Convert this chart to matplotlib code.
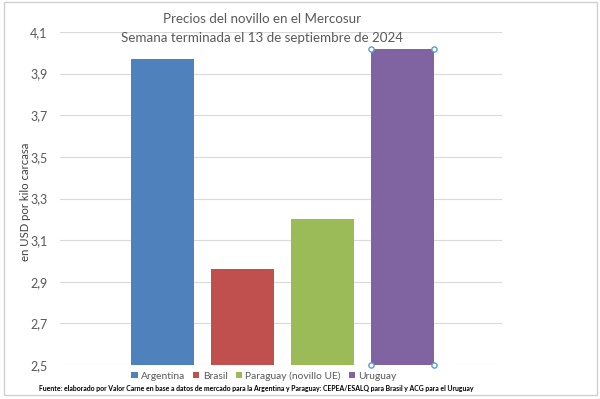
import matplotlib
matplotlib.use("Agg")
import matplotlib.pyplot as plt
from matplotlib.patches import Rectangle, Patch

categories = ["Argentina", "Brasil", "Paraguay (novillo UE)", "Uruguay"]
values = [3.97, 2.96, 3.20, 4.02]
colors = ["#4F81BD", "#C0504D", "#9BBB59", "#8064A2"]
yticks = [2.5, 2.7, 2.9, 3.1, 3.3, 3.5, 3.7, 3.9, 4.1]
ytick_labels = ["2,5", "2,7", "2,9", "3,1", "3,3", "3,5", "3,7", "3,9", "4,1"]

plt.rcParams['font.family'] = ['Lato', 'DejaVu Sans']

fig = plt.figure(figsize=(6, 3.99), dpi=100)
ax = fig.add_axes([60/600, 1-365/399, (502-60)/600, (365-32)/399])

x = list(range(len(categories)))
bars = ax.bar(x, values, width=0.79, color=colors, zorder=3)
ax.set_ylim(2.5, 4.1)
ax.set_xlim(-1.28, 4.25)
ax.set_yticks(yticks)
ax.set_yticklabels(ytick_labels)
ax.set_xticks([])
ax.tick_params(axis='y', length=0, labelsize=9, labelcolor='#595959', pad=9)
ax.grid(axis='y', color='#D9D9D9', linewidth=0.8, zorder=0)
for s in ax.spines.values():
    s.set_visible(False)
ax.set_ylabel("en USD por kilo carcasa", fontsize=8.2, color='#404040')
ax.yaxis.set_label_coords((31-60)/442, 0.49)

# selection handles on the last bar
b = bars[-1]
bx0 = b.get_x(); bx1 = b.get_x() + b.get_width()
ax.scatter([bx0, bx1, bx0, bx1], [values[-1], values[-1], 2.5, 2.5], s=14,
           facecolor='white', edgecolor='#5B9BD5', linewidth=1, zorder=5, clip_on=False)

fig.text(262/600, 1-19/399, "Precios del novillo en el Mercosur", ha='center', va='center',
         fontsize=9.6, color='#595959')
fig.text(262/600, 1-38/399, "Semana terminada el 13 de septiembre de 2024", ha='center', va='center',
         fontsize=9.6, color='#595959')

handles = [Patch(facecolor=c, edgecolor='none') for c in colors]
fig.legend(handles, categories, loc='center', bbox_to_anchor=(264/600, 1-376/399), ncol=4,
           frameon=False, fontsize=7.4, handlelength=0.6, handleheight=0.6,
           handletextpad=0.35, columnspacing=0.75, labelcolor='#595959')

src = fig.text(256/600, 1-389/399,
         "Fuente: elaborado por Valor Carne en base a datos de mercado para la Argentina y Paraguay: CEPEA/ESALQ para Brasil y ACG para el Uruguay",
         ha='center', va='center', fontsize=6, fontweight='bold', color='black')
# fit source line to its width in the reference
fig.canvas.draw()
w = src.get_window_extent().width
src.set_fontsize(6 * 435 / w)

fig.patches.append(Rectangle((4/600, 1-395/399), 593/600, 393/399, transform=fig.transFigure,
                             fill=False, edgecolor='#D0D0D0', linewidth=1))

fig.savefig("out.png", dpi=100)
